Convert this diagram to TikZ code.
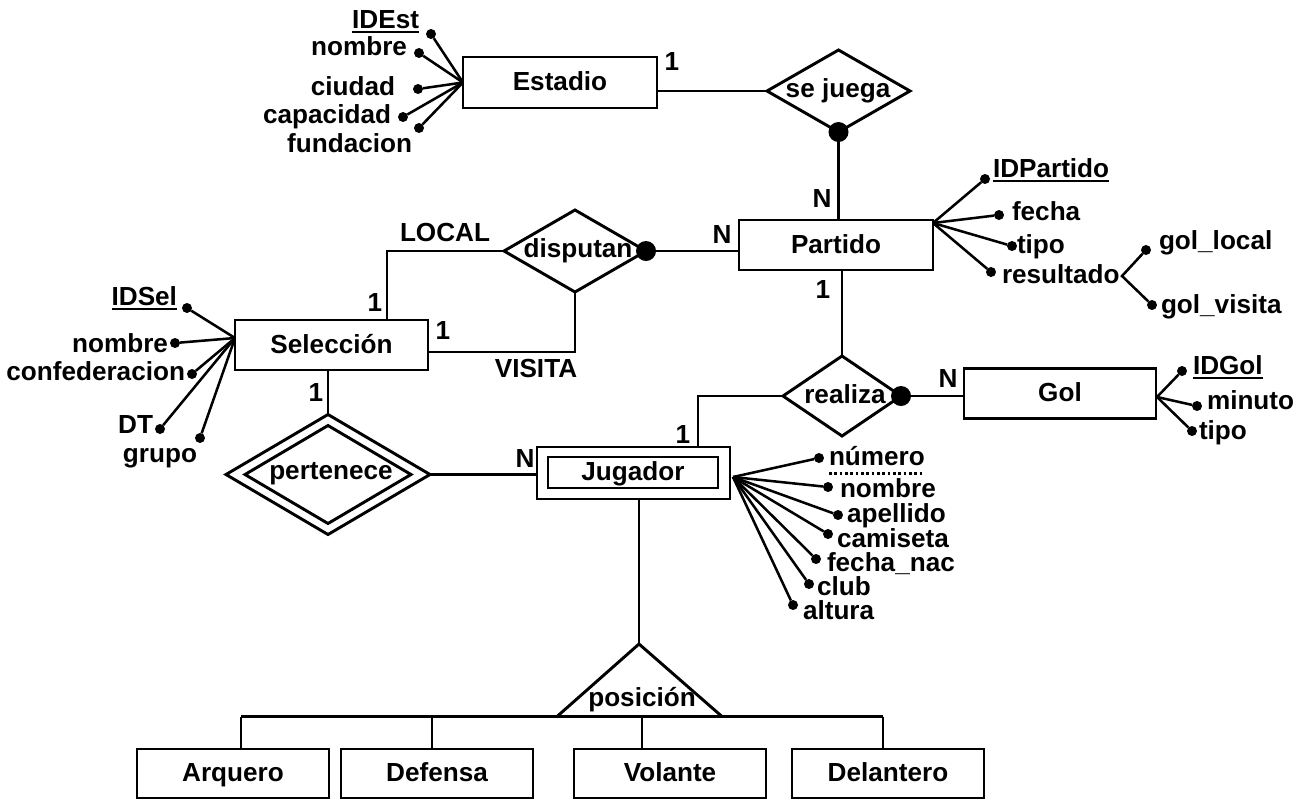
\documentclass[tikz,border=0pt]{standalone}
\usepackage{fontspec}
\setmainfont{Liberation Sans}
\usetikzlibrary{shapes.geometric}
\begin{document}
\begin{tikzpicture}[x=0.75pt,y=-0.75pt,
  every node/.style={inner sep=0pt, outer sep=0pt, font=\fontsize{19.6}{23}\selectfont\bfseries},
  sz/.style 2 args={minimum width=#1*0.75pt, minimum height=#2*0.75pt},
  ent/.style={draw, line width=2.2pt, rectangle, text height=14pt, text depth=2pt},
  rel/.style={draw, line width=2.2pt, diamond},
  conn/.style={line width=2.2pt},
  attr/.style={line width=1.9pt},
  adot/.style={circle, fill=black, minimum size=7.5pt},
  joint/.style={circle, fill=black, minimum size=15pt},
  uline/.style={line width=1.4pt},
]
\useasboundingbox (0,0) rectangle (1305,801);

% ---------- entities and relations ----------
\node[ent, sz={194}{51}] (est) at (560,82.5) {Estadio};
\node[rel, sz={143}{82}] (sj) at (838.5,91) {};
\node (sjt) at (838,91) {se juega};
\node[ent, sz={194}{50}] (par) at (836,245) {Partido};
\node[rel, sz={142}{82}] (dis) at (575,251) {};
\node (dist) at (578,251) {disputan};
\node[ent, sz={193}{50}] (sel) at (331.5,345) {Selección};
\node[rel, sz={204}{120}] (per) at (328,474.5) {};
\node[rel, sz={166}{98}] (peri) at (328,474.5) {};
\node (pert) at (331,474) {pertenece};
\node[ent, sz={193}{52}] (jugo) at (633.5,473) {};
\node[ent, sz={170}{31}] (jug) at (633,472.5) {Jugador};
\node[rel, sz={118}{80}] (rea) at (842,396) {};
\node (reat) at (845,394) {realiza};
\node[ent, sz={192}{50}] (gol) at (1060,393.5) {Gol};

% ---------- relationship connectors ----------
\draw[conn] (est.east |- sj.west) -- (sj.west);
\draw[conn] (sj.south) -- (sj.south |- par.north);
\draw[conn] (dis.east) -- (dis.east -| par.west);
\coordinate (lc) at (387,320);
\draw[conn] (dis.west) -| (lc);
\coordinate (vc) at (428,352);
\draw[conn] (dis.south) |- (vc);
\draw[conn] (per.north |- sel.south) -- (per.north);
\draw[conn] (per.east) -- (per.east -| jugo.west);
\draw[conn] (par.south -| rea.north) -- (rea.north);
\coordinate (jc) at (698,447);
\draw[conn] (jc) |- (rea.west);
\draw[conn] (rea.east) -- (rea.east -| gol.west);

\node[joint] (j1) at (sj.south) {};
\node[joint] (j2) at (dis.east) {};
\node[joint] (j3) at (rea.east) {};

% ---------- cardinalities and roles ----------
\node (c1) at (672,62) {1};
\node (c2) at (822,199) {N};
\node (c3) at (722,235) {N};
\node (c4) at (823,290) {1};
\node (loc) at (445,232) {LOCAL};
\node (c5) at (375,302) {1};
\node (c6) at (443,330) {1};
\node (vis) at (536,368) {VISITA};
\node (c7) at (316,392) {1};
\node (c8) at (525,458) {N};
\node (c9) at (683,434) {1};
\node (c10) at (948,378) {N};

% ---------- Estadio attributes ----------
\coordinate (eh) at (est.west);
\node[adot] (e1) at (431,34) {};
\node[adot] (e2) at (419,53) {};
\node[adot] (e3) at (418,89) {};
\node[adot] (e4) at (403,117) {};
\node[adot] (e5) at (419,128) {};
\foreach \d in {e1,e2,e3,e4,e5} \draw[attr] (eh) -- (\d);
\node[anchor=base east] (e1t) at (419,28) {IDEst};
\draw[uline] ([yshift=-3pt]e1t.base west) -- ([yshift=-3pt]e1t.base east);
\node[anchor=base east] (e2t) at (407,55) {nombre};
\node[anchor=base east] (e3t) at (395,95) {ciudad};
\node[anchor=base east] (e4t) at (391,123) {capacidad};
\node[anchor=base east] (e5t) at (412,152) {fundacion};

% ---------- Partido attributes ----------
\coordinate (ph) at (933,223);
\node[adot] (p1) at (985,179) {};
\node[adot] (p2) at (999,215) {};
\node[adot] (p3) at (1012,246) {};
\node[adot] (p4) at (991,272) {};
\foreach \d in {p1,p2,p3,p4} \draw[attr] (ph) -- (\d);
\node[anchor=base west] (p1t) at (993,177) {IDPartido};
\draw[uline] ([yshift=-3pt]p1t.base west) -- ([yshift=-3pt]p1t.base east);
\node[anchor=base west] (p2t) at (1012,220) {fecha};
\node[anchor=base west] (p3t) at (1017,253) {tipo};
\node[anchor=base west] (p4t) at (1002,283) {resultado};
\coordinate (rf) at (1122,276);
\node[adot] (r1) at (1146,250) {};
\node[adot] (r2) at (1152,305) {};
\draw[attr] (r1) -- (rf) -- (r2);
\node[anchor=base west] (r1t) at (1159,249) {gol\_local};
\node[anchor=base west] (r2t) at (1161,313) {gol\_visita};

% ---------- Seleccion attributes ----------
\coordinate (sh) at (235,338);
\node[adot] (s1) at (187,308) {};
\node[adot] (s2) at (175,343) {};
\node[adot] (s3) at (192,374) {};
\node[adot] (s4) at (160,429) {};
\node[adot] (s5) at (200,438) {};
\foreach \d in {s1,s2,s3,s4,s5} \draw[attr] (sh) -- (\d);
\node[anchor=base east] (s1t) at (177,305) {IDSel};
\draw[uline] ([yshift=-3pt]s1t.base west) -- ([yshift=-3pt]s1t.base east);
\node[anchor=base east] (s2t) at (168,352) {nombre};
\node[anchor=base east] (s3t) at (185,380) {confederacion};
\node[anchor=base east] (s4t) at (153,433) {DT};
\node[anchor=base east] (s5t) at (197,462) {grupo};

% ---------- Jugador attributes ----------
\coordinate (jh) at (733,477);
\node[adot] (n1) at (819,458) {};
\node[adot] (n2) at (828,487) {};
\node[adot] (n3) at (838,515) {};
\node[adot] (n4) at (828,534) {};
\node[adot] (n5) at (816,559) {};
\node[adot] (n6) at (809,584) {};
\node[adot] (n7) at (793,605) {};
\foreach \d in {n1,n2,n3,n4,n5,n6,n7} \draw[attr] (jh) -- (\d);
\node[anchor=base west] (n1t) at (829,465) {número};
\draw[line width=2pt, dotted] ([yshift=-6.5pt]n1t.base west) -- ([yshift=-6.5pt]n1t.base east);
\node[anchor=base west] (n2t) at (840,497) {nombre};
\node[anchor=base west] (n3t) at (847,522) {apellido};
\node[anchor=base west] (n4t) at (837,547) {camiseta};
\node[anchor=base west] (n5t) at (827,571) {fecha\_nac};
\node[anchor=base west] (n6t) at (817,595) {club};
\node[anchor=base west] (n7t) at (803,619) {altura};

% ---------- Gol attributes ----------
\coordinate (gh) at (1157,397);
\node[adot] (g1) at (1182,371) {};
\node[adot] (g2) at (1197,406) {};
\node[adot] (g3) at (1192,431) {};
\foreach \d in {g1,g2,g3} \draw[attr] (gh) -- (\d);
\node[anchor=base west] (g1t) at (1193,374) {IDGol};
\draw[uline] ([yshift=-3pt]g1t.base west) -- ([yshift=-3pt]g1t.base east);
\node[anchor=base west] (g2t) at (1207,409) {minuto};
\node[anchor=base west] (g3t) at (1199,439) {tipo};

% ---------- specialization ----------
\coordinate (tt) at (639,644);
\coordinate (tl) at (557,716.5);
\coordinate (tr) at (722,716.5);
\draw[conn, line join=miter] (tl) -- (tt) -- (tr);
\draw[conn] (jugo.south -| tt) -- (tt);
\node (post) at (642,700) {posición};

\node[ent, sz={192}{49}] (arq) at (233,773.5) {Arquero};
\node[ent, sz={192}{49}] (def) at (437,773.5) {Defensa};
\node[ent, sz={192}{49}] (vol) at (670,773.5) {Volante};
\node[ent, sz={192}{49}] (del) at (888,773.5) {Delantero};
\coordinate (b1) at (241,716.5);
\coordinate (b2) at (432,716.5);
\coordinate (b3) at (642,716.5);
\coordinate (b4) at (883,716.5);
\draw[conn] (b1) -- (b4);
\draw[conn] (b1) -- (b1 |- arq.north);
\draw[conn] (b2) -- (b2 |- def.north);
\draw[conn] (b3) -- (b3 |- vol.north);
\draw[conn] (b4) -- (b4 |- del.north);
\end{tikzpicture}
\end{document}
